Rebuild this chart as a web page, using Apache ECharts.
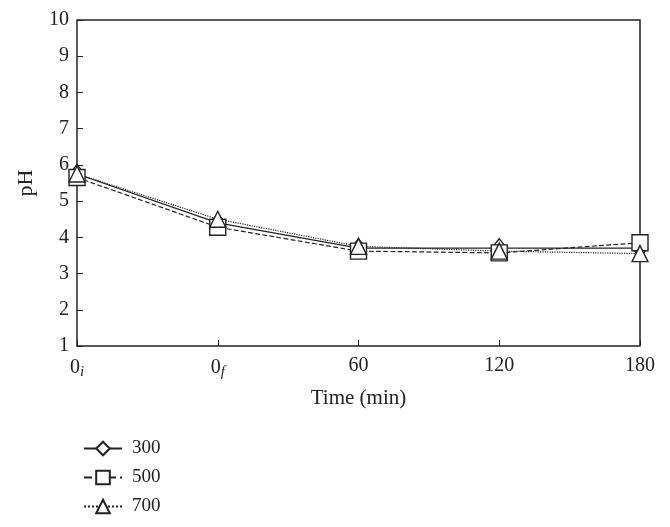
<!DOCTYPE html>
<html>
<head>
<meta charset="utf-8">
<script src="https://cdn.jsdelivr.net/npm/echarts@6/dist/echarts.min.js"></script>
<style>
  html, body { margin: 0; padding: 0; background: #fff; }
  #chart { width: 670px; height: 527px; }
</style>
</head>
<body>
<div id="chart"></div>
<script>
// time points (0i = initial, 0f = after dosing)
const categories = ['0i', '0f', '60', '120', '180']
const seriesNames = ['300', '500', '700']
const ph300 = [5.75, 4.4, 3.7, 3.7, 3.7]
const ph500 = [5.65, 4.28, 3.62, 3.57, 3.85]
const ph700 = [5.75, 4.5, 3.75, 3.62, 3.55]
const yTicks = [1, 2, 3, 4, 5, 6, 7, 8, 9, 10]

const chart = echarts.init(document.getElementById('chart'))
const font = 'Liberation Serif, DejaVu Serif, serif'
const ink = '#222'

function labelFmt(v) {
  if (v === '0i') return '0{sub|i}'
  if (v === '0f') return '0{sub|f}'
  return v
}

function makeSeries(name, data, symbol, lineType) {
  return {
    name: name,
    type: 'line',
    data: data,
    symbol: symbol,
    symbolSize: symbol === 'diamond' ? [15, 19] : 16,
    showAllSymbol: true,
    lineStyle: { color: ink, width: 1.2, type: lineType },
    itemStyle: { color: '#fff', borderColor: ink, borderWidth: 1.4 },
    emphasis: { disabled: true },
    animation: false
  }
}

chart.setOption({
  backgroundColor: '#fff',
  textStyle: { fontFamily: font },
  grid: { left: 77, right: 30, top: 20, bottom: 181, containLabel: false },
  legend: {
    orient: 'vertical',
    left: 78,
    top: 434,
    itemGap: 10,
    itemWidth: 38,
    itemHeight: 17,
    data: seriesNames,
    textStyle: { fontFamily: font, fontSize: 19, color: ink, padding: [0, 0, 0, 5] },
    inactiveColor: '#ccc'
  },
  xAxis: {
    type: 'category',
    data: categories,
    boundaryGap: false,
    name: 'Time (min)',
    nameLocation: 'middle',
    nameGap: 42,
    nameTextStyle: { fontFamily: font, fontSize: 21, color: ink },
    axisLine: { lineStyle: { color: ink, width: 1.5 } },
    axisTick: { inside: true, length: 6, lineStyle: { color: ink } },
    axisLabel: {
      fontFamily: font, fontSize: 20, color: ink, margin: 10,
      formatter: labelFmt,
      rich: {
        sub: { fontFamily: font, fontSize: 15, fontStyle: 'italic', color: ink, verticalAlign: 'bottom', padding: [9, 0, 0, 0] }
      }
    },
    splitLine: { show: false }
  },
  yAxis: {
    type: 'value',
    min: yTicks[0],
    max: yTicks[yTicks.length - 1],
    interval: 1,
    name: 'pH',
    nameLocation: 'middle',
    nameGap: 40,
    nameRotate: 90,
    nameTextStyle: { fontFamily: font, fontSize: 22, color: ink },
    axisLine: { show: true, lineStyle: { color: ink, width: 1.5 } },
    axisTick: { show: true, inside: true, length: 6, lineStyle: { color: ink } },
    axisLabel: { fontFamily: font, fontSize: 20, color: ink, margin: 8 },
    splitLine: { show: false }
  },
  graphic: [],
  series: [
    makeSeries(seriesNames[0], ph300, 'diamond', 'solid'),
    makeSeries(seriesNames[1], ph500, 'rect', 'dashed'),
    makeSeries(seriesNames[2], ph700, 'triangle', 'dotted')
  ]
})

// draw the top/right frame from grid rect
function drawFrame() {
  const rect = chart.getModel().getComponent('grid').coordinateSystem.getRect()
  chart.setOption({
    graphic: [{
      type: 'polyline',
      silent: true,
      shape: { points: [[rect.x, rect.y], [rect.x + rect.width, rect.y], [rect.x + rect.width, rect.y + rect.height]] },
      style: { stroke: ink, lineWidth: 1.5, fill: null }
    }]
  })
}
drawFrame()
</script>
</body>
</html>
